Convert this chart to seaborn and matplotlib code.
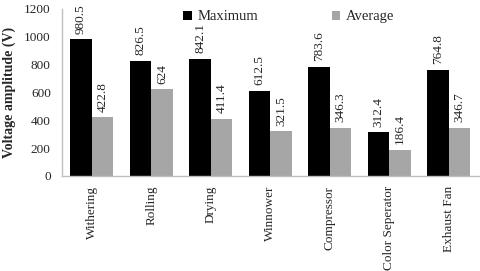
import matplotlib
matplotlib.use("Agg")
import matplotlib.pyplot as plt
import seaborn as sns
import pandas as pd

categories = ["Withering", "Rolling", "Drying", "Winnower", "Compressor", "Color Seperator", "Exhaust Fan"]
maximum = [980.5, 826.5, 842.1, 612.5, 783.6, 312.4, 764.8]
average = [422.8, 624, 411.4, 321.5, 346.3, 186.4, 346.7]
series = ["Maximum", "Average"]
yticks = [0, 200, 400, 600, 800, 1000, 1200]

df = pd.DataFrame({
    "cat": categories * 2,
    "series": [series[0]] * len(categories) + [series[1]] * len(categories),
    "val": maximum + average,
})

sns.set_style("white")
plt.rcParams["font.family"] = ["Liberation Serif", "DejaVu Serif"]

fig = plt.figure(figsize=(4.8, 2.71), dpi=100)
ax = fig.add_axes([0.129, 0.3506, 0.868, 0.6165])
sns.barplot(data=df, x="cat", y="val", hue="series", order=categories, hue_order=series,
            palette=["#000000", "#A6A6A6"], width=0.72, saturation=1, linewidth=0,
            ax=ax, legend=True)

for cont, vals in zip(ax.containers, [maximum, average]):
    ax.bar_label(cont, labels=[f"{v:g}" for v in vals], rotation=90, padding=4, fontsize=9.5)

ax.set_ylim(0, 1200)
ax.set_yticks(yticks)
ax.set_yticklabels([str(t) for t in yticks], fontsize=9.5)
ax.set_xlim(-0.5, len(categories) - 0.5)
ax.set_xlabel("")
ax.set_ylabel("Voltage amplitude (V)", fontsize=10, fontweight="bold", labelpad=6)
ax.tick_params(axis="x", labelrotation=90, labelsize=9.5, length=0, pad=7)
ax.tick_params(axis="y", length=0, pad=8)
for s in ["top", "right"]:
    ax.spines[s].set_visible(False)
for s in ["left", "bottom"]:
    ax.spines[s].set_color("#BFBFBF")
    ax.spines[s].set_linewidth(1)

ax.legend(loc="upper center", bbox_to_anchor=(0.545, 1.07), ncol=2, frameon=False,
          fontsize=10.5, handlelength=0.6, handleheight=0.6, columnspacing=5, handletextpad=0.4)

fig.savefig("out.png", dpi=100)
